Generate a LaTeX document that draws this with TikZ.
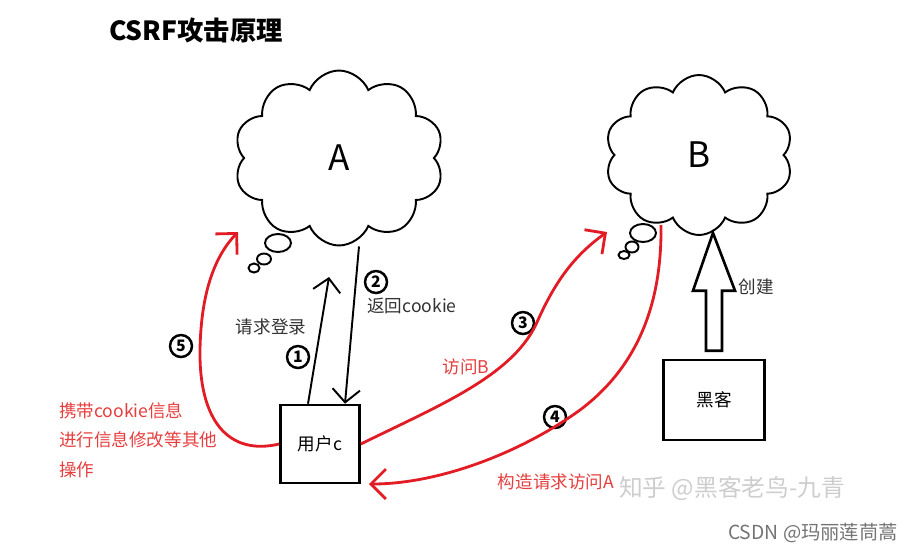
\documentclass[tikz,border=0pt]{standalone}
\usepackage{fontspec}
\newfontfamily\cjk{Noto Sans CJK SC}
\usepackage{xcolor}
\usepackage{tikz}
\usetikzlibrary{shapes,arrows,arrows.meta,calc}
\definecolor{penred}{RGB}{226,28,36}
\definecolor{notered}{RGB}{230,62,62}
\definecolor{markgray}{RGB}{205,205,205}
\tikzstyle{server} = [cloud, draw, cloud puffs=10, cloud puff arc=135, cloud ignores aspect,
    line width=1.1pt, inner sep=0pt, font=\cjk\fontsize{20}{20}\selectfont]
\tikzstyle{bubble} = [ellipse, draw, line width=1.1pt, inner sep=0pt, fill=white]
\tikzstyle{box} = [rectangle, draw, line width=1.5pt, inner sep=0pt, font=\cjk\fontsize{10}{12}\selectfont]
\tikzstyle{num} = [circle, draw, line width=1.4pt, inner sep=0pt, minimum size=0.44cm, font=\cjk\bfseries\fontsize{9}{9}\selectfont]
\tikzstyle{note} = [inner sep=1pt, font=\cjk\fontsize{10}{12}\selectfont, text=black!80]
\tikzstyle{rednote} = [inner sep=1pt, font=\cjk\fontsize{10}{17}\selectfont, text=notered]
\tikzstyle{line} = [draw, line width=1.1pt, -{Straight Barb[length=2.6mm,width=5.5mm]}]
\tikzstyle{redline} = [draw, penred, line width=1.6pt, -{Straight Barb[length=3mm,width=6mm]}]
\tikzstyle{hollow} = [draw, line width=1.5pt, fill=white, line join=miter]

\begin{document}
\begin{tikzpicture}[x=0.02cm, y=0.02cm]
    \useasboundingbox (0,0) rectangle (913,-552);
    % Place nodes
    \node [font=\cjk\bfseries\fontsize{15}{15}\selectfont] (title) at (196,-30) {CSRF攻击原理};
    \node [server, minimum width=4.2cm, minimum height=3.5cm] (A) at (339,-158) {A};
    \node [server, minimum width=3.76cm, minimum height=3.2cm] (B) at (699,-155) {B};
    \node [bubble, minimum width=0.52cm, minimum height=0.36cm] (a1) at (278,-243) {};
    \node [bubble, minimum width=0.28cm, minimum height=0.22cm] (a2) at (264,-259) {};
    \node [bubble, minimum width=0.22cm, minimum height=0.18cm] (a3) at (254,-268) {};
    \node [bubble, minimum width=0.52cm, minimum height=0.36cm] (b1) at (643,-233) {};
    \node [bubble, minimum width=0.26cm, minimum height=0.22cm] (b2) at (632,-247) {};
    \node [bubble, minimum width=0.22cm, minimum height=0.16cm] (b3) at (624,-255) {};
    \node [box, minimum width=1.58cm, minimum height=1.56cm] (user) at (320,-444) {用户c};
    \node [box, minimum width=2.02cm, minimum height=1.6cm] (hacker) at (714,-400) {黑客};
    \node [num] (n1) at (298,-357) {1};
    \node [num] (n2) at (376,-282) {2};
    \node [num] (n3) at (523,-323) {3};
    \node [num] (n4) at (555,-417) {4};
    \node [num] (n5) at (181,-346) {5};
    \node [note] (login) at (271,-327) {请求登录};
    \node [note] (cookie) at (412,-306) {返回cookie};
    \node [note] (create) at (756,-287) {创建};
    \node [rednote] (visitB) at (466,-367) {访问B};
    \node [rednote] (forge) at (556,-482) {构造请求访问A};
    \node [rednote, align=left, anchor=north west] (carry) at (57,-400)
        {携带cookie信息\\进行信息修改等其他\\操作};
    \node [font=\cjk\fontsize{13.5}{14}\selectfont, text=markgray] (zhihu) at (732,-488) {知乎 @黑客老鸟-九青};
    \node [font=\cjk\fontsize{11}{12}\selectfont, text=black!55] (csdn) at (813,-533) {CSDN @玛丽莲茼蒿};
    \coordinate (enterA) at (238,-232);
    \coordinate (enterB) at (607,-232);
    \coordinate (leaveB) at (661,-225);
    \coordinate (backC) at (369,-484);
    % Draw edges
    \path [line] ([xshift=-0.24cm]user.north) -- (329,-277);
    \path [line] ([xshift=0.4cm]A.south) -- ([xshift=0.5cm]user.north);
    \path [redline] (user.west) .. controls (228,-456) and (199,-420) .. (200,-350)
        .. controls (201,-290) and (216,-255) .. (enterA);
    \path [redline] (user.east) .. controls (440,-405) and (515,-375) .. (538,-320)
        .. controls (556,-280) and (575,-255) .. (enterB);
    \path [redline] (leaveB) .. controls (662,-300) and (640,-365) .. (580,-410)
        .. controls (522,-452) and (440,-484) .. (backC);
    % hollow arrow from hacker up to B
    \path ([yshift=0.16cm]hacker.north) coordinate (cbase);
    \path ([xshift=0.28cm,yshift=0.06cm]B.south) coordinate (ctip);
    \draw [hollow] ($(cbase)+(-8,0)$) -- ++(0,60) -- ++(-13,0) -- (ctip)
        -- ($(cbase)+(21,60)$) -- ++(-13,0) -- ++(0,-60) -- cycle;
\end{tikzpicture}
\end{document}
